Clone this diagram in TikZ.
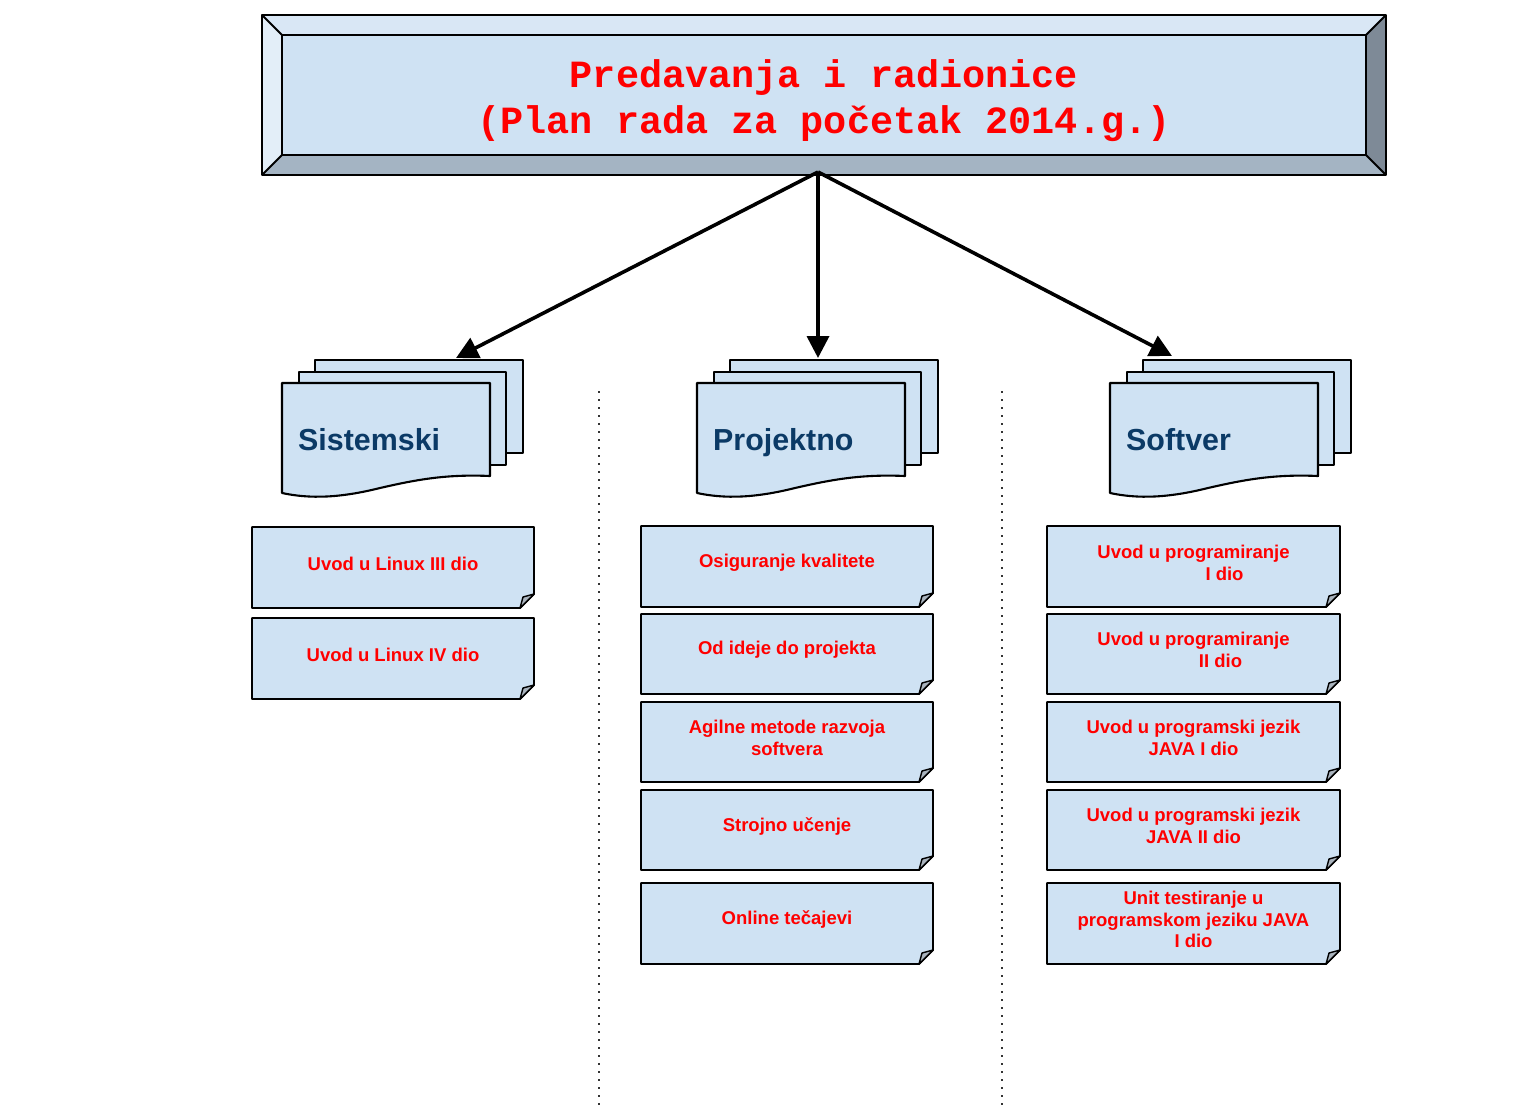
\documentclass[tikz,border=0pt]{standalone}
\usepackage{fontspec}
\setmainfont{Liberation Sans}
\newfontfamily\titlemono{Liberation Mono}
\usetikzlibrary{arrows.meta}
\definecolor{fillblue}{HTML}{CFE2F3}
\definecolor{bevtop}{HTML}{D9E7F5}
\definecolor{bevleft}{HTML}{E3EEF8}
\definecolor{bevbot}{HTML}{A4B4C3}
\definecolor{bevright}{HTML}{7E8A97}
\definecolor{foldgray}{HTML}{A9B3BD}
\definecolor{navy}{HTML}{0B3A66}
\definecolor{txtred}{HTML}{FF0000}
\definecolor{dotgray}{HTML}{333333}
\tikzset{
  notestyle/.style={draw=black, fill=fillblue, line width=1.9pt, line join=round},
  foldstyle/.style={draw=black, fill=foldgray, line width=1.4pt, line join=round},
  notetext/.style={font=\bfseries\fontsize{18.5}{21.8}\selectfont, text=txtred, align=center, inner sep=0pt},
  docstyle/.style={draw=black, fill=fillblue, line width=2.1pt, line join=round},
  doclabel/.style={font=\bfseries\fontsize{30.4}{36}\selectfont, text=navy, inner sep=0pt},
  bevel/.style={draw=black, line width=1.9pt, line join=round},
  titletext/.style={font=\titlemono\bfseries\fontsize{38.5}{46}\selectfont, text=txtred, align=center, inner sep=0pt},
  arrowstyle/.style={draw=black, line width=3.6pt, -{Triangle[length=22pt,width=22pt]}},
  sepline/.style={draw=dotgray, line width=1.5pt, dash pattern=on 1.5pt off 6.5pt}
}
\newcommand\mynote[6]{%
  \draw[notestyle] (#2,#3) -- (#4,#3) -- (#4,#5-14) -- (#4-14,#5) -- (#2,#5) -- cycle;
  \draw[foldstyle] (#4-14,#5) .. controls (#4-13,#5-6) .. (#4-11,#5-11) -- (#4,#5-14) -- cycle;
  \node[notetext] (#1) at ({(#2+#4)/2},{(#3+#5)/2-4}) {#6};
}
\newcommand\multidoc[3]{%
  \draw[docstyle] (315+#2,360) rectangle (523+#2,453);
  \draw[docstyle] (299+#2,372) rectangle (506+#2,465);
  \draw[docstyle] (282+#2,383) -- (490+#2,383) -- (490+#2,476)
     .. controls (445+#2,474) and (415+#2,480) .. (380+#2,488)
     .. controls (340+#2,498) and (310+#2,499) .. (282+#2,493) -- cycle;
  \node[doclabel, anchor=base west] (#1) at (298+#2,450) {#3};
}
\begin{document}
\begin{tikzpicture}[x=1pt, y=-1pt]
\useasboundingbox (0,0) rectangle (1514,1106);
% title bevel box
\fill[bevtop] (262,15) -- (1386,15) -- (1366,35) -- (282,35) -- cycle;
\fill[bevleft] (262,15) -- (282,35) -- (282,155) -- (262,175) -- cycle;
\fill[bevbot] (262,175) -- (282,155) -- (1366,155) -- (1386,175) -- cycle;
\fill[bevright] (1386,15) -- (1366,35) -- (1366,155) -- (1386,175) -- cycle;
\draw[bevel, fill=fillblue] (282,35) rectangle (1366,155);
\draw[bevel] (262,15) -- (282,35) (1386,15) -- (1366,35) (262,175) -- (282,155) (1386,175) -- (1366,155);
\draw[bevel] (262,15) rectangle (1386,175);
\node[titletext] (title) at (824,101) {Predavanja i radionice\\(Plan rada za početak 2014.g.)};
% separators
\coordinate (sepAtop) at (599,391);
\coordinate (sepAbot) at (599,1106);
\coordinate (sepBtop) at (1002,391);
\coordinate (sepBbot) at (1002,1106);
\draw[sepline] (sepAtop) -- (sepAbot);
\draw[sepline] (sepBtop) -- (sepBbot);
% category documents
\multidoc{sis}{0}{Sistemski}
\multidoc{pro}{415}{Projektno}
\multidoc{sof}{828}{Softver}
% arrows
\coordinate (src) at (818,172);
\coordinate (sisT) at (456,358);
\coordinate (proT) at (818,358);
\coordinate (sofT) at (1172,356);
\draw[arrowstyle] (src) -- (sisT);
\draw[arrowstyle] (src) -- (proT);
\draw[arrowstyle] (src) -- (sofT);
% notes - Sistemski
\mynote{s1}{252}{527}{534}{608}{Uvod u Linux III dio}
\mynote{s2}{252}{618}{534}{699}{Uvod u Linux IV dio}
% notes - Projektno
\mynote{p1}{641}{526}{933}{607}{Osiguranje kvalitete}
\mynote{p2}{641}{614}{933}{694}{Od ideje do projekta}
\mynote{p3}{641}{702}{933}{782}{Agilne metode razvoja\\softvera}
\mynote{p4}{641}{790}{933}{870}{Strojno učenje}
\mynote{p5}{641}{883}{933}{964}{Online tečajevi}
% notes - Softver
\mynote{f1}{1047}{526}{1340}{607}{Uvod u programiranje\\\hspace*{62pt}I dio}
\mynote{f2}{1047}{614}{1340}{694}{Uvod u programiranje\\\hspace*{54pt}II dio}
\mynote{f3}{1047}{702}{1340}{782}{Uvod u programski jezik\\JAVA I dio}
\mynote{f4}{1047}{790}{1340}{870}{Uvod u programski jezik\\JAVA II dio}
\mynote{f5}{1047}{883}{1340}{964}{Unit testiranje u\\programskom jeziku JAVA\\I dio}
\end{tikzpicture}
\end{document}
